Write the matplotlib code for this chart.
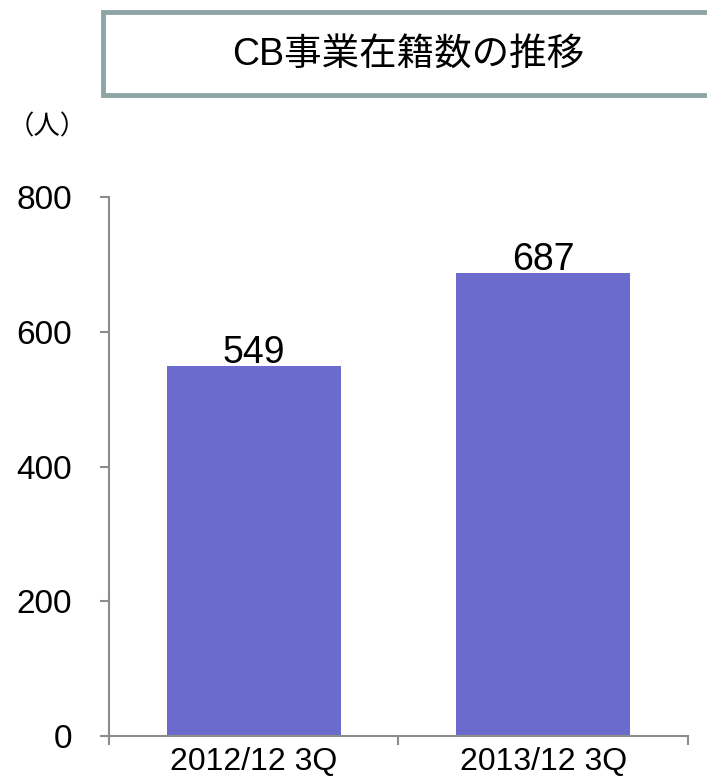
import matplotlib
matplotlib.use("Agg")
import matplotlib.pyplot as plt
from matplotlib.patches import Rectangle

# data
categories = ["2012/12 3Q", "2013/12 3Q"]
headcount = [549, 687]
y_ticks = [0, 200, 400, 600, 800]

title = "CB事業在籍数の推移"
unit_label = "（人）"

bar_color = "#6b6bcd"
axis_color = "#8c8c8c"
fonts = ["Liberation Sans", "Noto Sans CJK JP", "DejaVu Sans"]
plt.rcParams["font.family"] = fonts

fig = plt.figure(figsize=(7.07, 7.81), dpi=100)
ax = fig.add_axes([0.1542, 0.0576, 0.8188, 0.690])

x = range(len(categories))
bars = ax.bar(x, headcount, width=0.6, color=bar_color)
for b, v in zip(bars, headcount):
    ax.annotate(str(v), (b.get_x() + b.get_width() / 2, v), xytext=(0, 2),
                textcoords="offset points", ha="center", va="baseline",
                fontsize=27, color="black")

ax.set_xlim(-0.5, len(categories) - 0.5)
ax.set_ylim(0, 800)
ax.set_yticks(y_ticks)
ax.set_yticklabels([str(t) for t in y_ticks], fontsize=24)

# categories as minor labels, boundaries as major ticks
ax.set_xticks([-0.5, 0.5, 1.5])
ax.set_xticklabels([])
ax.set_xticks(list(x), minor=True)
ax.set_xticklabels(categories, minor=True, fontsize=23)
ax.tick_params(axis="x", which="minor", length=0, pad=8)
ax.tick_params(axis="x", which="major", length=6.5, color=axis_color, width=1.5)
ax.tick_params(axis="y", length=6.5, color=axis_color, width=1.5, pad=20)

for s in ["top", "right"]:
    ax.spines[s].set_visible(False)
for s in ["left", "bottom"]:
    ax.spines[s].set_color(axis_color)
    ax.spines[s].set_linewidth(1.5)

# title box, runs off the right edge
fig.patches.append(Rectangle((103 / 707, 1 - 95 / 781), 0.9, 83 / 781,
                             transform=fig.transFigure, facecolor="white",
                             edgecolor="#8fa5a5", linewidth=3.5))
fig.text(408 / 707, 1 - 55 / 781, title, ha="center", va="center", fontsize=27)
fig.text(8 / 707, 1 - 127 / 781, unit_label, ha="left", va="center", fontsize=19)

fig.savefig("out.png", dpi=100)
